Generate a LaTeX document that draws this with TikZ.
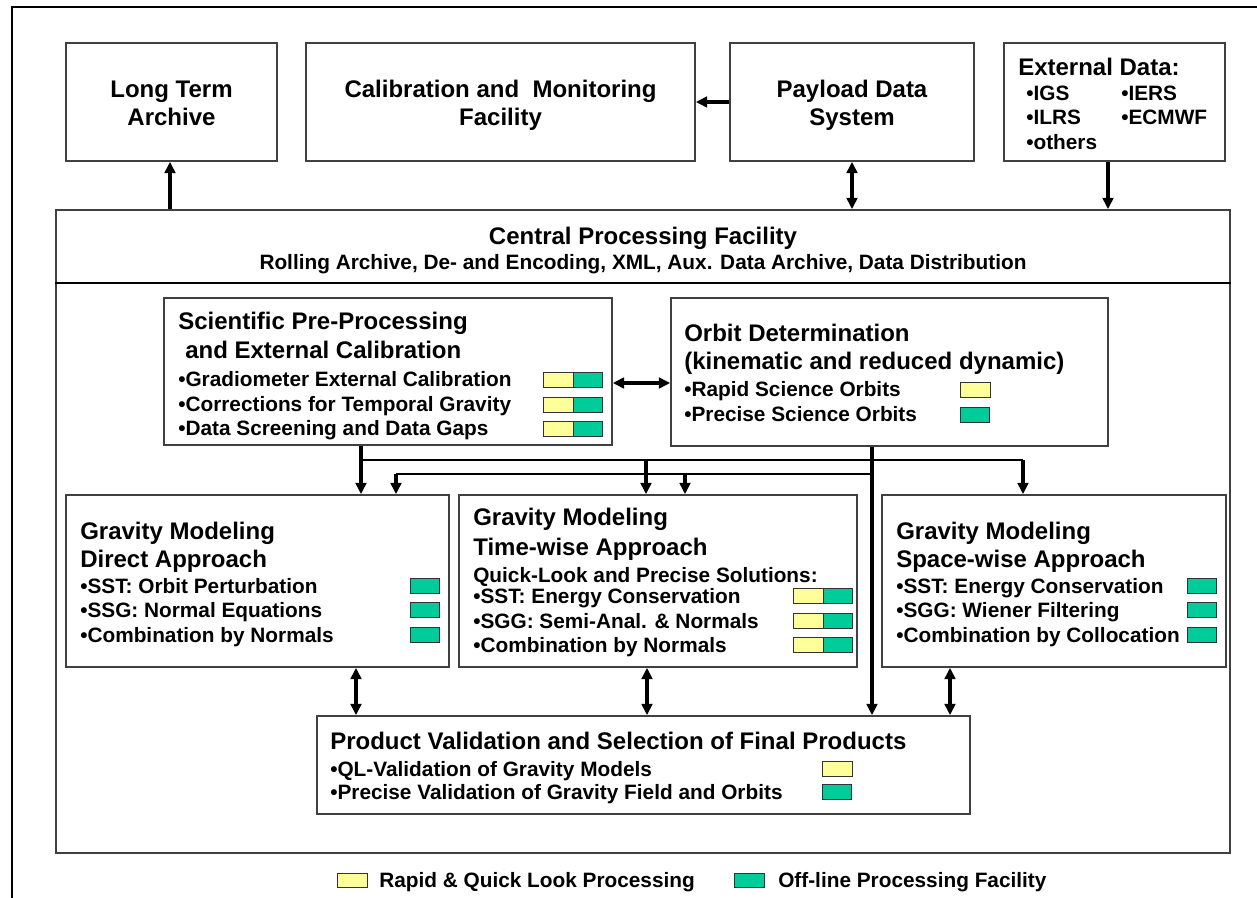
\documentclass[tikz,border=0pt]{standalone}
\usepackage{fontspec}
\setmainfont{Liberation Sans}
\usetikzlibrary{arrows.meta,fit}
\definecolor{qyel}{HTML}{FFFF99}
\definecolor{qgrn}{HTML}{00CC99}
\newcommand\barYG[2]{\draw[ybar] (#1,#2) rectangle ++(30,15); \draw[gbar] (#1+30,#2) rectangle ++(29,15);}
\newcommand\barY[2]{\draw[ybar] (#1,#2) rectangle ++(30,15);}
\newcommand\barG[2]{\draw[gbar] (#1,#2) rectangle ++(29,15);}
\begin{document}
\begin{tikzpicture}[x=0.75pt,y=-0.75pt,
  box/.style={draw=black!75,line width=1.2pt,inner sep=0pt},
  ttl/.style={font=\fontsize{18}{21}\selectfont\bfseries,inner sep=0pt},
  txt/.style={font=\fontsize{15.6}{19}\selectfont\bfseries,inner sep=0pt},
  arr/.style={line width=2.4pt,-{Triangle[length=8.5pt,width=8pt]}},
  darr/.style={line width=2.4pt,{Triangle[length=8.5pt,width=8pt]}-{Triangle[length=8.5pt,width=8pt]}},
  thinline/.style={line width=1.3pt},
  frame/.style={line width=2.2pt},
  ybar/.style={draw=black!80,line width=0.7pt,fill=qyel},
  gbar/.style={draw=black!80,line width=0.7pt,fill=qgrn}]
\useasboundingbox (0,0) rectangle (1257,898);
% outer frame (cropped)
\draw[frame] (12,898) -- (12,7) -- (1257,7);

% top boxes
\node[box,fit={(66,43)(277,161)}] (lta) {};
\node[box,fit={(306,43)(695,161)}] (cmf) {};
\node[box,fit={(730,43)(974,161)}] (pds) {};
\node[box,fit={(1004,43)(1225,161)}] (ext) {};
\node[ttl,anchor=base] (lta1) at (171.5,98) {Long Term};
\node[ttl,anchor=base] (lta2) at (171.5,126) {Archive};
\node[ttl,anchor=base] (cmf1) at (500.5,98) {Calibration and\ \ Monitoring};
\node[ttl,anchor=base] (cmf2) at (500.5,126) {Facility};
\node[ttl,anchor=base] (pds1) at (852,98) {Payload Data};
\node[ttl,anchor=base] (pds2) at (852,126) {System};
\node[ttl,anchor=base west] (ext0) at (1018,76) {External Data:};
\node[txt,anchor=base west] (ext1) at (1026,100.5) {•IGS};
\node[txt,anchor=base west] (ext2) at (1121,100.5) {•IERS};
\node[txt,anchor=base west] (ext3) at (1026,124.5) {•ILRS};
\node[txt,anchor=base west] (ext4) at (1121,124.5) {•ECMWF};
\node[txt,anchor=base west] (ext5) at (1026,149.5) {•others};

% central processing facility
\node[box,fit={(56,210)(1230,853)}] (cpf) {};
\draw[frame] (cpf.west |- 0,283) -- (cpf.east |- 0,283);
\node[ttl,anchor=base] (cpf1) at (643,244.5) {Central Processing Facility};
\node[txt,anchor=base] (cpf2) at (643,269.5) {Rolling Archive, De- and Encoding, XML, Aux. Data Archive, Data Distribution};

% top connectors
\draw[arr] (cpf.north -| 170,0) -- (lta.south -| 170,0);
\draw[arr] (pds.west |- 0,102) -- (cmf.east |- 0,102);
\draw[darr] (pds.south -| 852,0) -- (cpf.north -| 852,0);
\draw[arr] (ext.south -| 1108,0) -- (cpf.north -| 1108,0);

% scientific pre-processing
\node[box,fit={(164,298)(612,445)}] (spp) {};
\node[ttl,anchor=base west] (spp1) at (178,330) {Scientific Pre-Processing};
\node[ttl,anchor=base west] (spp2) at (185,359) {and External Calibration};
\node[txt,anchor=base west] (spp3) at (178,387) {•Gradiometer External Calibration};
\node[txt,anchor=base west] (spp4) at (178,412) {•Corrections for Temporal Gravity};
\node[txt,anchor=base west] (spp5) at (178,436) {•Data Screening and Data Gaps};
\barYG{543}{372}\barYG{543}{397}\barYG{543}{421}

% orbit determination
\node[box,fit={(671,298)(1108,446)}] (od) {};
\node[ttl,anchor=base west] (od1) at (684,342) {Orbit Determination};
\node[ttl,anchor=base west] (od2) at (684,370) {(kinematic and reduced dynamic)};
\node[txt,anchor=base west] (od3) at (684,397) {•Rapid Science Orbits};
\node[txt,anchor=base west] (od4) at (684,422) {•Precise Science Orbits};
\barY{960}{382}\barG{960}{407}

\draw[darr] (spp.east |- 0,383) -- (od.west |- 0,383);

% gravity modeling boxes
\node[box,fit={(66,495)(449,667)}] (gmd) {};
\node[ttl,anchor=base west] (gmd1) at (80,539) {Gravity Modeling};
\node[ttl,anchor=base west] (gmd2) at (80,567) {Direct Approach};
\node[txt,anchor=base west] (gmd3) at (80,593) {•SST: Orbit Perturbation};
\node[txt,anchor=base west] (gmd4) at (80,617) {•SSG: Normal Equations};
\node[txt,anchor=base west] (gmd5) at (80,642) {•Combination by Normals};
\barG{410}{578}\barG{410}{602}\barG{410}{627}

\node[box,fit={(459,495)(857,667)}] (gmt) {};
\node[ttl,anchor=base west] (gmt1) at (473,525) {Gravity Modeling};
\node[ttl,anchor=base west] (gmt2) at (473,556) {Time-wise Approach};
\node[txt,anchor=base west] (gmt3) at (473,582) {Quick-Look and Precise Solutions:};
\node[txt,anchor=base west] (gmt4) at (473,603) {•SST: Energy Conservation};
\node[txt,anchor=base west] (gmt5) at (473,628) {•SGG: Semi-Anal. \& Normals};
\node[txt,anchor=base west] (gmt6) at (473,652) {•Combination by Normals};
\barYG{793}{588}\barYG{793}{613}\barYG{793}{637}

\node[box,fit={(882,495)(1226,667)}] (gms) {};
\node[ttl,anchor=base west] (gms1) at (896,539) {Gravity Modeling};
\node[ttl,anchor=base west] (gms2) at (896,567) {Space-wise Approach};
\node[txt,anchor=base west] (gms3) at (896,593) {•SST: Energy Conservation};
\node[txt,anchor=base west] (gms4) at (896,617) {•SGG: Wiener Filtering};
\node[txt,anchor=base west] (gms5) at (896,642) {•Combination by Collocation};
\barG{1187}{578}\barG{1187}{602}\barG{1187}{627}

% product validation
\node[box,fit={(317,716)(970,814)}] (pv) {};
\node[ttl,anchor=base west] (pv1) at (330,749) {Product Validation and Selection of Final Products};
\node[txt,anchor=base west] (pv2) at (330,776) {•QL-Validation of Gravity Models};
\node[txt,anchor=base west] (pv3) at (330,799) {•Precise Validation of Gravity Field and Orbits};
\barY{822}{761}\barG{822}{784}

% distribution connectors
\coordinate (sb) at (361,460);
\coordinate (s2) at (646,460);
\coordinate (s3) at (1023,460);
\coordinate (ob) at (872,474);
\coordinate (o1) at (396,474);
\coordinate (o2) at (685,474);
\draw[arr] (spp.south -| sb) -- (gmd.north -| sb);
\draw[thinline] (sb) -- (s3);
\draw[arr] (s2) -- (gmt.north -| s2);
\draw[arr] (s3) -- (gms.north -| s3);
\draw[arr] (od.south -| ob) -- (pv.north -| ob);
\draw[thinline] (ob) -- (o1);
\draw[arr] (o1) -- (gmd.north -| o1);
\draw[arr] (o2) -- (gmt.north -| o2);

\draw[darr] (gmd.south -| 356,0) -- (pv.north -| 356,0);
\draw[darr] (gmt.south -| 647,0) -- (pv.north -| 647,0);
\draw[darr] (gms.south -| 950,0) -- (pv.north -| 950,0);

% legend
\draw[ybar] (337,873) rectangle (367,887);
\node[txt,anchor=base west] (lg1) at (379,887) {Rapid \& Quick Look Processing};
\draw[gbar] (734,873) rectangle (764,887);
\node[txt,anchor=base west] (lg2) at (778,887) {Off-line Processing Facility};
\end{tikzpicture}
\end{document}
